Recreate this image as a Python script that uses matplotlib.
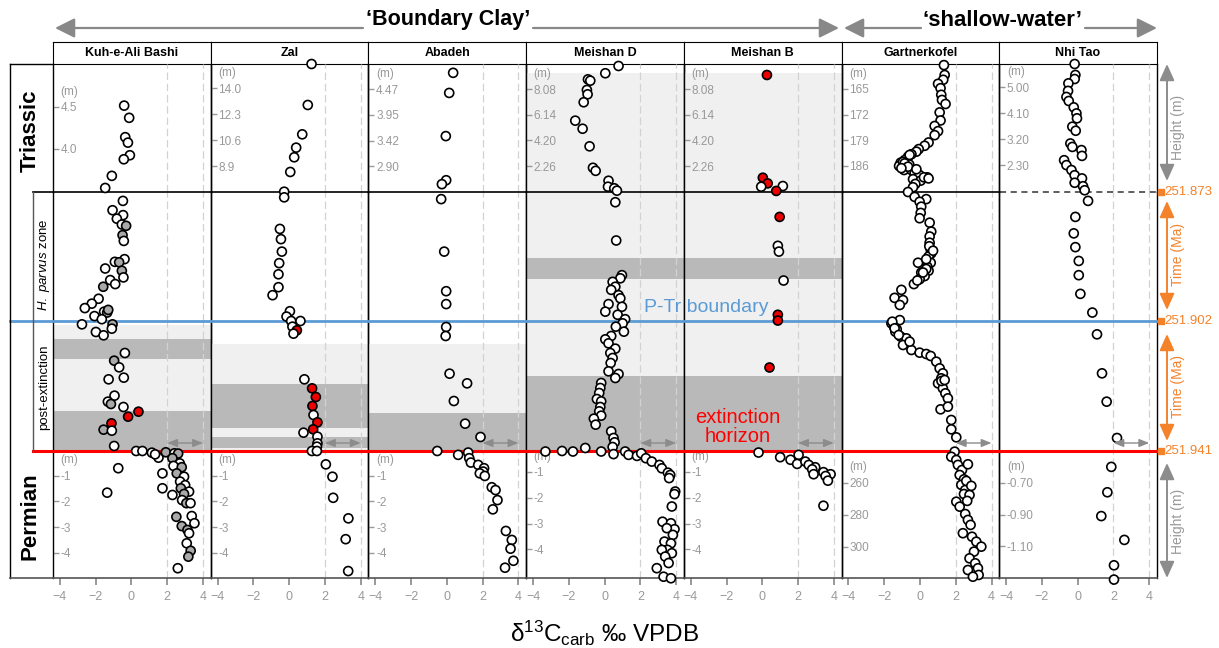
import matplotlib.pyplot as plt
from matplotlib.lines import Line2D
from matplotlib.patches import FancyArrowPatch

plt.rcParams['font.family'] = ['Liberation Sans', 'DejaVu Sans']
plt.rcParams['mathtext.fontset'] = 'custom'
plt.rcParams['mathtext.rm'] = 'Liberation Sans'
plt.rcParams['mathtext.it'] = 'Liberation Sans:italic'

# ---------------- data ----------------
# points are (d13C, y[, kind]); kind: 'g' grey sample, 'r' red sample
# y is height (m) in the Triassic/Permian parts and age (Ma) in the middle parts
sites = ['Kuh-e-Ali Bashi', 'Zal', 'Abadeh', 'Meishan D', 'Meishan B', 'Gartnerkofel', 'Nhi Tao']

kuh_tri = [(-0.41, 4.515), (-0.13, 4.37), (-0.35, 4.14), (-0.20, 4.075), (-0.09, 3.925),
           (-0.43, 3.877), (-1.10, 3.68), (-1.47, 3.536)]
kuh_up = [(-0.48, 251.8750), (-1.06, 251.8771), (-0.47, 251.8782), (-0.82, 251.8790),
          (-0.54, 251.8803), (-0.30, 251.8806, 'g'), (-0.50, 251.8827, 'g'), (-0.43, 251.8840),
          (-0.39, 251.8881), (-0.93, 251.8887), (-0.69, 251.8888, 'g'), (-0.54, 251.8907, 'g'),
          (-1.47, 251.8902), (-0.45, 251.8922), (-1.19, 251.8928), (-0.91, 251.8937),
          (-1.58, 251.8943, 'g'), (-1.84, 251.8970), (-2.22, 251.8981), (-2.61, 251.8991),
          (-1.53, 251.8999), (-1.36, 251.9001, 'g'), (-2.07, 251.9009), (-1.66, 251.9016),
          (-1.30, 251.8995, 'g')]
kuh_low = [(-2.77, 251.9030), (-1.06, 251.9030, 'g'), (-1.10, 251.9043), (-1.99, 251.9053),
           (-1.56, 251.9063), (-0.37, 251.9116), (-0.97, 251.9139, 'g'), (-0.69, 251.9159),
           (-0.43, 251.9190), (-1.28, 251.9195), (-0.95, 251.9244), (-1.32, 251.9262),
           (-1.15, 251.9269, 'g'), (-0.45, 251.9278), (0.39, 251.9292, 'r'), (-0.19, 251.9307, 'r'),
           (-1.12, 251.9327, 'r'), (-1.56, 251.9346, 'g'), (-1.10, 251.9349), (-0.97, 251.9395)]
kuh_perm = [(0.26, -0.04), (0.61, -0.04), (1.14, -0.105), (1.51, -0.30), (1.92, -0.09, 'g'),
            (1.32, -0.17), (-0.74, -0.71), (-1.36, -1.66), (1.73, -0.91), (1.73, -1.49),
            (2.29, -1.75), (2.40, -0.13), (2.61, -0.14, 'g'), (2.29, -0.32, 'g'), (2.70, -0.52),
            (2.35, -0.62), (2.81, -0.67, 'g'), (2.53, -0.91, 'g'), (2.94, -1.04), (2.72, -1.23),
            (3.00, -1.37), (2.76, -1.49, 'g'), (3.22, -1.62), (2.94, -1.71, 'g'), (2.83, -1.95),
            (3.07, -2.07, 'g'), (3.30, -2.07), (3.37, -2.57), (2.51, -2.60, 'g'), (3.52, -2.85),
            (2.81, -2.96, 'g'), (3.13, -3.11, 'g'), (3.22, -3.24), (3.09, -3.63),
            (3.31, -3.92, 'g'), (3.18, -4.15, 'g'), (2.59, -4.60)]

zal_tri = [(1.25, 15.57), (1.04, 12.89), (0.73, 10.97), (0.39, 10.10), (0.28, 9.47),
           (0.06, 8.51), (-0.28, 7.22)]
zal_up = [(-0.28, 251.8742), (-0.52, 251.8813), (-0.46, 251.8836), (-0.41, 251.8864),
          (-0.56, 251.8890), (-0.60, 251.8915), (-0.60, 251.8944), (-0.93, 251.8962),
          (0.04, 251.8998), (-0.15, 251.9010), (0.11, 251.9020), (0.63, 251.9020)]
zal_low = [(0.18, 251.9037), (0.43, 251.9048, 'r'), (0.24, 251.9058), (0.85, 251.9195),
           (1.28, 251.9222, 'r'), (1.49, 251.9248, 'r'), (1.30, 251.9275, 'r'), (1.36, 251.9302),
           (1.58, 251.9324, 'r'), (1.34, 251.9345, 'r'), (0.80, 251.9355), (1.58, 251.9367),
           (1.58, 251.9387), (1.55, 251.9397), (1.27, 251.9410), (1.55, 251.9410)]
zal_perm = [(2.05, -0.56), (2.42, -1.04), (2.46, -1.86), (3.31, -2.66), (3.16, -3.47), (3.30, -4.71)]

aba_tri = [(0.35, 4.80), (0.13, 4.39), (-0.06, 3.51), (-0.04, 2.61), (-0.28, 2.53)]
aba_up = [(-0.32, 251.8746), (-0.15, 251.8864), (-0.04, 251.8953), (-0.04, 251.8982)]
aba_low = [(-0.04, 251.9038), (-0.07, 251.9065), (0.15, 251.9178), (1.13, 251.9207),
           (0.39, 251.9260), (1.02, 251.9328), (1.88, 251.9368), (-0.54, 251.9410)]
aba_perm = [(0.63, -0.19), (1.19, -0.10), (1.25, -0.32), (1.34, -0.49), (1.75, -0.58),
            (2.08, -0.71), (2.03, -0.84), (1.84, -0.91), (2.12, -1.01), (2.51, -1.45),
            (2.72, -1.56), (2.83, -1.95), (2.57, -2.31), (3.30, -3.15), (3.63, -3.50),
            (3.56, -3.84), (3.72, -4.31), (3.25, -4.58)]

msd_tri = [(0.78, 9.82), (0.04, 9.27), (-0.93, 8.81), (-0.80, 8.71), (-0.99, 8.01),
           (-0.95, 7.68), (-1.17, 7.08), (-1.64, 5.69), (-1.23, 5.08), (-0.84, 3.75),
           (-0.65, 2.13), (-0.50, 1.90), (0.22, 1.15), (0.19, 0.70), (0.54, 0.58), (0.69, 0.40)]
msd_up = [(0.60, 251.8753), (0.65, 251.8839), (0.97, 251.8917), (0.88, 251.8924),
          (0.45, 251.8932), (0.60, 251.8943), (0.37, 251.8950), (0.78, 251.8962),
          (0.88, 251.8969), (0.22, 251.8982), (0.97, 251.8988), (0.04, 251.8999),
          (0.73, 251.9006), (1.15, 251.9016)]
msd_low = [(1.01, 251.9027), (0.63, 251.9037), (1.08, 251.9052), (0.37, 251.9065),
           (0.04, 251.9075), (0.22, 251.9087), (0.60, 251.9103), (0.32, 251.9116),
           (0.45, 251.9131), (0.34, 251.9146), (0.22, 251.9171), (0.78, 251.9179),
           (0.60, 251.9191), (-0.19, 251.9206), (-0.24, 251.9221), (-0.30, 251.9236),
           (-0.43, 251.9254), (-0.19, 251.9261), (-0.24, 251.9278), (-0.30, 251.9291),
           (-0.19, 251.9304), (-0.60, 251.9313), (-0.50, 251.9331), (0.37, 251.9351),
           (0.50, 251.9371), (0.56, 251.9384), (0.45, 251.9398), (-1.08, 251.9401)]
msd_perm = [(-3.31, -0.21), (-2.38, -0.19), (-1.77, -0.21), (-0.19, -0.21), (0.50, -0.31),
            (1.15, -0.21), (1.34, -0.34), (1.81, -0.38), (2.05, -0.28), (2.31, -0.47),
            (2.64, -0.60), (3.07, -0.73), (3.20, -0.86), (3.54, -1.03), (3.67, -1.12),
            (3.61, -1.24), (3.95, -1.76), (3.91, -1.86), (3.76, -2.34), (3.24, -2.93),
            (3.71, -2.99), (3.91, -3.22), (3.48, -3.18), (3.82, -3.44), (3.35, -3.70),
            (3.71, -3.77), (3.52, -4.02), (3.20, -4.02), (3.76, -4.15), (3.39, -4.28),
            (2.92, -4.73), (3.58, -4.53), (3.30, -5.06), (3.71, -5.12)]

msb_tri = [(0.26, 9.14, 'r'), (0.03, 1.38, 'r'), (0.30, 0.95, 'r'), (-0.06, 0.70),
           (1.15, 0.75), (0.78, 0.38, 'r')]
msb_up = [(0.97, 251.8786, 'r'), (0.87, 251.8851), (0.93, 251.8864), (1.19, 251.8929),
          (0.87, 251.9006, 'r'), (0.87, 251.9019, 'r')]
msb_low = [(0.35, 251.9157, 'r')]
msb_perm = [(-0.21, -0.25), (1.00, -0.43), (1.58, -0.53), (2.03, -0.34), (1.95, -0.69),
            (2.41, -0.60), (2.60, -0.73), (2.96, -0.82), (2.79, -0.90), (2.87, -1.09),
            (3.42, -1.01), (3.82, -1.09), (3.54, -1.16), (3.67, -1.34), (3.42, -2.31)]

gar_tri = [(1.34, 158.5), (1.38, 161.2), (1.30, 162.5), (1.01, 163.6), (1.15, 164.8),
           (1.19, 166.6), (1.23, 168.0), (1.43, 169.1), (1.10, 171.4), (1.15, 173.6),
           (0.82, 175.1), (1.01, 176.5), (0.82, 177.6), (0.48, 179.6), (0.26, 180.5),
           (-0.07, 181.4), (-0.20, 182.1), (-0.48, 182.8), (-0.67, 183.5), (-0.86, 184.4),
           (-1.08, 185.1), (-1.17, 186.0), (-0.76, 186.0), (-0.89, 187.1), (-0.48, 187.1),
           (-0.30, 188.0), (-0.02, 188.5), (0.41, 189.1), (-0.39, 189.6), (0.04, 190.0),
           (-0.26, 190.9), (-0.39, 191.8), (-0.95, 184.9), (-0.60, 185.6), (-0.58, 183.0),
           (-0.86, 185.3), (-0.67, 186.2), (-1.04, 186.6), (-0.20, 186.9), (0.22, 189.1),
           (0.48, 189.4)]
gar_up = [(-0.67, 251.8730), (-0.30, 251.8741), (0.35, 251.8746), (-0.02, 251.8752),
          (0.07, 251.8763), (0.04, 251.8777), (-0.02, 251.8789), (0.54, 251.8799),
          (0.63, 251.8819), (0.54, 251.8830), (0.54, 251.8844), (0.60, 251.8860),
          (0.63, 251.8868), (0.48, 251.8875), (-0.11, 251.8889), (0.60, 251.8889),
          (0.41, 251.8898), (0.48, 251.8907), (0.07, 251.8911), (0.26, 251.8919),
          (-0.02, 251.8926), (-0.34, 251.8937), (-1.04, 251.8950), (-1.42, 251.8968),
          (-0.95, 251.8973), (-1.13, 251.8984), (-1.13, 251.9018), (0.52, 251.8852),
          (0.35, 251.8903), (0.73, 251.8862), (0.35, 251.8881), (0.17, 251.8911),
          (-0.15, 251.8929)]
gar_low = [(-1.60, 251.9027), (-1.45, 251.9037), (-1.38, 251.9052), (-1.08, 251.9067),
           (-0.76, 251.9072), (-0.95, 251.9092), (-0.48, 251.9107), (-0.02, 251.9115),
           (0.35, 251.9119), (0.60, 251.9125), (0.91, 251.9142), (1.10, 251.9162),
           (1.28, 251.9177), (1.19, 251.9192), (1.01, 251.9207), (1.28, 251.9222),
           (1.42, 251.9237), (1.56, 251.9252), (1.15, 251.9285), (1.56, 251.9277),
           (1.75, 251.9317), (1.75, 251.9345), (2.03, 251.9369), (-1.55, 251.9022),
           (-1.30, 251.9045), (1.20, 251.9200), (-1.42, 251.9042), (-1.19, 251.9062),
           (-0.58, 251.9082), (1.38, 251.9197)]
gar_perm = [(1.94, 240.6), (1.75, 243.8), (2.03, 245.8), (2.12, 248.9), (2.35, 252.1),
            (2.22, 255.2), (2.46, 257.9), (2.31, 261.4), (2.53, 264.6), (2.46, 267.1),
            (2.77, 267.7), (2.03, 271.9), (2.22, 275.0), (2.53, 279.6), (2.68, 283.3),
            (2.83, 286.4), (2.40, 291.6), (2.91, 293.8), (3.15, 296.9), (3.43, 300.0),
            (3.02, 303.1), (2.77, 307.3), (3.09, 310.4), (3.24, 313.5), (2.68, 314.6),
            (3.28, 317.7), (2.96, 318.8), (2.68, 248.5), (2.59, 258.9), (2.87, 262.0),
            (2.64, 271.4)]

nhi_tri = [(-0.17, 5.80), (-0.13, 5.42), (-0.17, 5.28), (-0.52, 5.13), (-0.54, 4.87),
           (-0.63, 4.66), (-0.50, 4.52), (-0.22, 4.30), (-0.07, 4.09), (-0.04, 3.92),
           (-0.30, 3.63), (-0.11, 3.49), (-0.41, 3.05), (-0.30, 2.93), (0.21, 2.82),
           (0.24, 2.62), (-0.76, 2.47), (-0.63, 2.30), (-0.35, 2.13), (-0.17, 1.95),
           (0.24, 1.84), (-0.17, 1.69), (0.30, 1.57), (0.39, 1.43)]
nhi_up = [(0.58, 251.8750), (-0.13, 251.8786), (-0.22, 251.8823), (-0.13, 251.8854),
          (0.06, 251.8885), (0.06, 251.8917), (0.15, 251.8959), (0.82, 251.9001)]
nhi_low = [(1.08, 251.9060), (1.36, 251.9177), (1.62, 251.9262), (2.20, 251.9371)]
nhi_perm = [(1.88, -0.60), (1.66, -0.76), (1.32, -0.91), (2.61, -1.06), (2.03, -1.22), (2.03, -1.31)]

# height-axis tick labels per site (Triassic part, Permian part)
tri_ticks = [['4.0', '4.5'], ['8.9', '10.6', '12.3', '14.0'], ['2.90', '3.42', '3.95', '4.47'],
             ['2.26', '4.20', '6.14', '8.08'], ['2.26', '4.20', '6.14', '8.08'],
             ['165', '172', '179', '186'], ['2.30', '3.20', '4.10', '5.00']]
perm_ticks = [['-1', '-2', '-3', '-4']] * 5 + [['260', '280', '300'], ['-0.70', '-0.90', '-1.10']]
tri_lim = [(3.488, 5.01), (7.20, 15.57), (2.37, 4.98), (0.30, 9.97), (0.30, 9.97),
           (193.1, 158.2), (1.37, 5.80)]
perm_lim = [(-4.98, -0.04), (-4.98, -0.04), (-4.98, -0.04), (-5.11, -0.19), (-5.11, -0.19),
            (319.6, 240.2), (-1.30, -0.50)]

# lithology shading (ages in Ma, Meishan top part in m)
kuh_light = [(251.9031, 251.941)]
kuh_dark = [(251.9075, 251.9134), (251.9290, 251.941)]
zal_light = [(251.9089, 251.941)]
zal_dark = [(251.9209, 251.9342), (251.9367, 251.9400)]
aba_light = [(251.9089, 251.941)]
aba_dark = [(251.9295, 251.941)]
msn_light = [(251.873, 251.941)]
msn_dark = [(251.8879, 251.8926), (251.9185, 251.941)]
msn_top_light = (0.30, 9.27)

boundary_ages = ['251.873', '251.902', '251.941']

# ---------------- layout helpers ----------------
W, H = 1219.0, 648.0
fig = plt.figure(figsize=(12.19, 6.48), dpi=100)


def fx(px):
    return px / W


def fy(py):
    return 1 - py / H


GREY = '#999999'
ORANGE = '#f4822b'
BLUE = '#5b9bd5'
fills = {'o': 'white', 'g': '#a9a9a9', 'r': '#ee0000'}

col_w = 157.7
rows = [(64, 192), (192, 321), (321, 451), (451, 578)]
mid_lims = [(251.902, 251.873), (251.941, 251.902)]
XLIM = (-4.39, 4.43)

tri = [kuh_tri, zal_tri, aba_tri, msd_tri, msb_tri, gar_tri, nhi_tri]
up = [kuh_up, zal_up, aba_up, msd_up, msb_up, gar_up, nhi_up]
low = [kuh_low, zal_low, aba_low, msd_low, msb_low, gar_low, nhi_low]
perm = [kuh_perm, zal_perm, aba_perm, msd_perm, msb_perm, gar_perm, nhi_perm]
light = [kuh_light, zal_light, aba_light, msn_light, msn_light, [], []]
dark = [kuh_dark, zal_dark, aba_dark, msn_dark, msn_dark, [], []]
top_light = [None, None, None, msn_top_light, msn_top_light, None, None]

for i, name in enumerate(sites):
    x0 = 53 + i * col_w
    hx = fig.add_axes([fx(x0), fy(64), col_w / W, 22 / H])
    hx.set_xticks([])
    hx.set_yticks([])
    hx.text(0.5, 0.5, name, ha='center', va='center', weight='bold', size=9,
            transform=hx.transAxes)

    data = [tri[i], up[i], low[i], perm[i]]
    lims = [tri_lim[i], mid_lims[0], mid_lims[1], perm_lim[i]]
    for r, (top, bot) in enumerate(rows):
        rect = [fx(x0), fy(bot), col_w / W, (bot - top) / H]
        bg = fig.add_axes(rect, zorder=0)
        fg = fig.add_axes(rect, zorder=2)
        bg.patch.set_visible(False)
        fg.patch.set_visible(False)
        fg.axis('off')

        # shading
        if r == 0 and top_light[i] is not None:
            bg.axhspan(*top_light[i], color='#f0f0f0', lw=0, zorder=0)
        if r in (1, 2):
            for a, b in light[i]:
                bg.axhspan(a, b, color='#f0f0f0', lw=0, zorder=0)
            for a, b in dark[i]:
                bg.axhspan(a, b, color='#b9b9b9', lw=0, zorder=0.5)
        for xv in (2, 4):
            bg.axvline(xv, color='#d2d2d2', lw=0.9, ls=(0, (6, 3)), zorder=1)

        for s in ('top', 'bottom'):
            bg.spines[s].set_visible(False)
        for s in ('left', 'right'):
            bg.spines[s].set_linewidth(1.0)

        if r in (0, 3):
            labs = tri_ticks[i] if r == 0 else perm_ticks[i]
            vals = [float(t) for t in labs]
            bg.set_yticks(vals, labs)
            bg.tick_params(axis='y', direction='in', length=4, width=1, color=GREY,
                           labelcolor=GREY, labelsize=8.5, pad=-5.5)
            for t in bg.get_yticklabels():
                t.set_horizontalalignment('left')
            ylo, yhi = lims[r]
            topmost = max(vals) if yhi > ylo else min(vals)
            bg.annotate('(m)', xy=(0, topmost), xycoords=bg.get_yaxis_transform(),
                        xytext=(5.5, 11), textcoords='offset points', color=GREY,
                        size=8.5, va='center', ha='left')
        else:
            bg.set_yticks([])

        if r == 3:
            bg.spines['bottom'].set_visible(True)
            bg.spines['bottom'].set_color('#555555')
            bg.spines['bottom'].set_linewidth(1.2)
            bg.set_xticks([-4, -2, 0, 2, 4])
            bg.tick_params(axis='x', direction='out', length=5, width=1.2, color='#888888',
                           labelcolor=GREY, labelsize=9, pad=4)
        else:
            bg.set_xticks([])

        pts = data[r]
        xs = [p[0] for p in pts]
        ys = [p[1] for p in pts]
        cs = [fills[p[2]] if len(p) > 2 else fills['o'] for p in pts]
        fg.scatter(xs, ys, s=42, facecolors=cs, edgecolors='black', linewidths=1.2,
                   clip_on=False, zorder=3)

        if r == 2:
            yv = 251.9386
            fg.annotate('', xy=(4, yv), xytext=(2, yv),
                        arrowprops=dict(arrowstyle='<|-|>,head_length=1,head_width=0.4',
                                        mutation_scale=6, color='#8c8c8c', lw=1.0,
                                        shrinkA=0, shrinkB=0))

        for a in (bg, fg):
            a.set_xlim(*XLIM)
            a.set_ylim(*lims[r])


# ---------------- figure-level lines and labels ----------------
def fline(xs, ys, **kw):
    fig.add_artist(Line2D([fx(v) for v in xs], [fy(v) for v in ys],
                          transform=fig.transFigure, zorder=1, **kw))


def farrow(p1, p2, color, lw, ms, style):
    fig.add_artist(FancyArrowPatch((fx(p1[0]), fy(p1[1])), (fx(p2[0]), fy(p2[1])),
                                   transform=fig.transFigure, arrowstyle=style,
                                   mutation_scale=ms, color=color, lw=lw,
                                   shrinkA=0, shrinkB=0, zorder=1))


fline([33, 999.5], [192, 192], color='black', lw=1.2)
fline([999.5, 1160], [192, 192], color='#333333', lw=1.1, ls=(0, (4, 3)))
fline([10, 1160], [321, 321], color=BLUE, lw=2.0)
fline([33, 1160], [451, 451], color='#ff0000', lw=2.2)
fline([10, 10], [64, 578], color='black', lw=1.0)
fline([10, 53], [64, 64], color='black', lw=1.0)
fline([10, 53], [578, 578], color='#555555', lw=1.2)
fline([33, 33], [192, 451], color='#555555', lw=1.0)

fig.text(fx(30), fy(131), 'Triassic', rotation=90, weight='bold', size=16,
         ha='center', va='center')
fig.text(fx(30), fy(516), 'Permian', rotation=90, weight='bold', size=16,
         ha='center', va='center')
fig.text(fx(44), fy(265), r'$\it{H.\ parvus}$ zone', rotation=90, size=9.5,
         ha='center', va='center')
fig.text(fx(44), fy(387), 'post-extinction', rotation=90, size=9.5,
         ha='center', va='center')

fig.text(fx(706), fy(308), 'P-Tr boundary', color=BLUE, size=14,
         ha='center', va='center', zorder=1.5)
fig.text(fx(738), fy(427), 'extinction\nhorizon', color='#ff0000', size=14.5,
         ha='center', va='center', linespacing=1.05, zorder=1.5)

# group headers
big = '-|>,head_length=1.0,head_width=0.5'
fig.text(fx(448), fy(20), '\u2018Boundary Clay\u2019', weight='bold', size=15.5,
         ha='center', va='center')
farrow((363, 28), (55, 28), '#888888', 1.6, 12, big)
farrow((533, 28), (839, 28), '#888888', 1.6, 12, big)
fig.text(fx(1003), fy(20), '\u2018shallow-water\u2019', weight='bold', size=16,
         ha='center', va='center')
farrow((921, 28), (844, 28), '#888888', 1.6, 12, big)
farrow((1085, 28), (1157, 28), '#888888', 1.6, 12, big)

# right-hand scale annotations
dbl = '<|-|>,head_length=1.0,head_width=0.45'
farrow((1167, 64), (1167, 181), '#8c8c8c', 1.4, 10, dbl)
farrow((1167, 463), (1167, 578), '#8c8c8c', 1.4, 10, dbl)
farrow((1167, 201), (1167, 310), ORANGE, 1.4, 10, dbl)
farrow((1167, 334), (1167, 441), ORANGE, 1.4, 10, dbl)
fig.text(fx(1178), fy(127), 'Height (m)', rotation=90, color=GREY, size=10,
         ha='center', va='center')
fig.text(fx(1178), fy(521), 'Height (m)', rotation=90, color=GREY, size=10,
         ha='center', va='center')
fig.text(fx(1178), fy(254), 'Time (Ma)', rotation=90, color=ORANGE, size=10,
         ha='center', va='center')
fig.text(fx(1178), fy(387), 'Time (Ma)', rotation=90, color=ORANGE, size=10,
         ha='center', va='center')
for lab, py in zip(boundary_ages, (192, 321, 451)):
    fig.add_artist(Line2D([fx(1161)], [fy(py)], marker='s', markersize=4, color=ORANGE,
                          transform=fig.transFigure, zorder=1))
    fig.text(fx(1164), fy(py), lab, color=ORANGE, size=9.5, ha='left', va='center')

fig.text(fx(605), fy(633), '\u03b4$^{13}$C$_{\\rm carb}$ \u2030 VPDB', size=17.5,
         ha='center', va='center')

fig.savefig('out.png', dpi=100)
